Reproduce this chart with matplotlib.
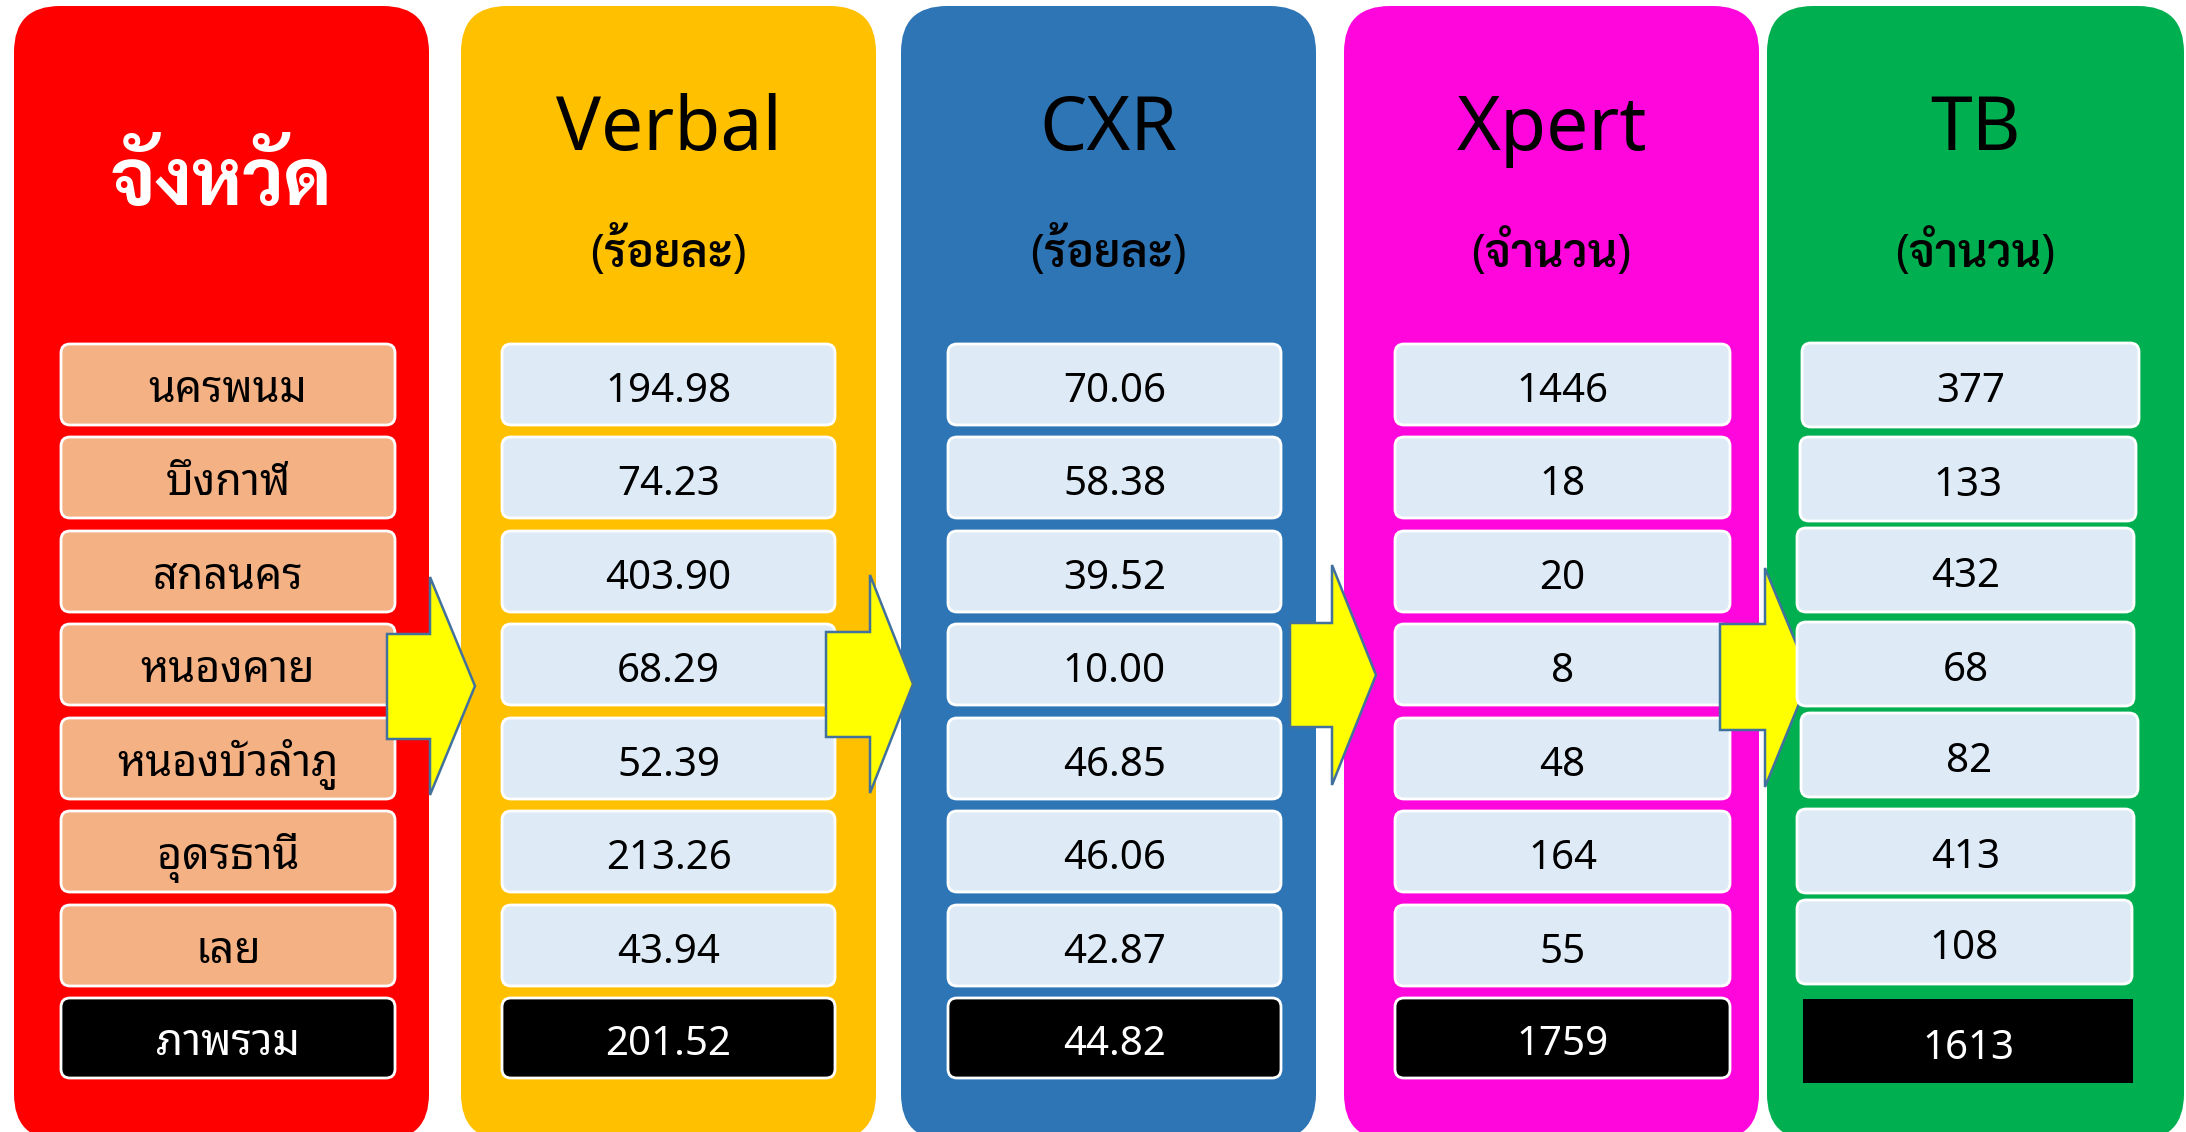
import matplotlib
matplotlib.use("Agg")
import matplotlib.pyplot as plt
from matplotlib.patches import FancyBboxPatch, Polygon
from matplotlib import font_manager as fm

# ---------------- data ----------------
provinces = ['นครพนม', 'บึงกาฬ', 'สกลนคร', 'หนองคาย', 'หนองบัวลำภู', 'อุดรธานี', 'เลย']
total_label = 'ภาพรวม'
titles = ['จังหวัด', 'Verbal', 'CXR', 'Xpert', 'TB']
subtitles = ['', '(ร้อยละ)', '(ร้อยละ)', '(จำนวน)', '(จำนวน)']
verbal = [194.98, 74.23, 403.90, 68.29, 52.39, 213.26, 43.94]
verbal_total = 201.52
cxr = [70.06, 58.38, 39.52, 10.00, 46.85, 46.06, 42.87]
cxr_total = 44.82
xpert = [1446, 18, 20, 8, 48, 164, 55]
xpert_total = 1759
tb = [377, 133, 432, 68, 82, 413, 108]
tb_total = 1613

# ---------------- fonts ----------------
names = {}
for f in fm.fontManager.ttflist:
    w = f.weight if isinstance(f.weight, int) else 400
    names.setdefault(f.name, set()).add(w)
pref = ['Noto Sans Thai Looped', 'Sarabun', 'IBM Plex Sans Thai Looped', 'Noto Sans Thai', 'Loma']
thai = next((p for p in pref if p in names), 'Noto Sans Thai')
thai_bold = next((p for p in pref if p in names and max(names[p]) >= 600), thai)
fam = ['Noto Sans', thai, 'DejaVu Sans']
fam_bold = ['Noto Sans', thai_bold, 'DejaVu Sans']

# ---------------- layout ----------------
W, H = 2186, 1132
fig = plt.figure(figsize=(W / 100, H / 100), dpi=100)
ax = fig.add_axes([0, 0, 1, 1])
ax.set_xlim(0, W)
ax.set_ylim(H, 0)
ax.axis('off')

panel_colors = ['#FF0000', '#FFC000', '#2E75B6', '#FF06DC', '#00B050']
panel_x = [(14, 429), (461, 876), (901, 1316), (1344, 1759), (1767, 2184)]
box_x = [(61, 395), (502, 835), (948, 1281), (1395, 1730)]
row_top = [344, 437, 531, 624, 718, 811, 905]
total_top = 998
BH = 81

# green column boxes are slightly irregular
green_box = [(1802, 2139, 343), (1800, 2136, 437), (1797, 2134, 528), (1797, 2134, 622),
             (1801, 2138, 713), (1797, 2134, 809), (1797, 2132, 900)]
green_total = (1803, 2133, 999, 84)

for (x0, x1), c in zip(panel_x, panel_colors):
    ax.add_patch(FancyBboxPatch((x0, 6), x1 - x0, 1140 - 6,
                                boxstyle='round,pad=0,rounding_size=46',
                                fc=c, ec='none', zorder=1))

def rbox(x0, x1, y0, h, fc, z=2, r=9, ec='white'):
    ax.add_patch(FancyBboxPatch((x0, y0), x1 - x0, h,
                                boxstyle=f'round,pad=0,rounding_size={r}',
                                fc=fc, ec=ec, lw=2, zorder=z))

# titles
for i, ((x0, x1), t, st) in enumerate(zip(panel_x, titles, subtitles)):
    cx = (x0 + x1) / 2
    if i == 0:
        ax.text(cx, 205, t, ha='center', va='baseline', fontsize=56, color='white',
                fontweight='bold', family=fam_bold, zorder=5)
    else:
        ax.text(cx, 150, t, ha='center', va='baseline', fontsize=54, color='black',
                family=fam, zorder=5)
        ax.text(cx, 267, st, ha='center', va='baseline', fontsize=33, color='black',
                fontweight='semibold', family=fam_bold, zorder=5)

columns = [provinces,
           [f'{v:.2f}' for v in verbal],
           [f'{v:.2f}' for v in cxr],
           [str(v) for v in xpert]]
totals = [total_label, f'{verbal_total:.2f}', f'{cxr_total:.2f}', str(xpert_total)]

for ci in range(4):
    x0, x1 = box_x[ci]
    cx = (x0 + x1) / 2
    fc = '#F4B183' if ci == 0 else '#DEEBF7'
    fs = 31 if ci == 0 else 29
    for ri, lab in enumerate(columns[ci]):
        y0 = row_top[ri]
        rbox(x0, x1, y0, BH, fc)
        ax.text(cx, y0 + 58, lab, ha='center', va='baseline', fontsize=fs,
                color='black', family=fam, zorder=5,
                fontweight='medium' if ci == 0 else 'normal')
    rbox(x0, x1, total_top, BH - 1, 'black')
    ax.text(cx, total_top + 57, totals[ci], ha='center', va='baseline', fontsize=fs,
            color='white', family=fam, zorder=5)

for (x0, x1, y0), v in zip(green_box, tb):
    rbox(x0, x1, y0, 84, '#DEEBF7', z=4)
    ax.text((x0 + x1) / 2, y0 + 59, str(v), ha='center', va='baseline', fontsize=29,
            color='black', family=fam, zorder=5)
gx0, gx1, gy0, gh = green_total
ax.add_patch(plt.Rectangle((gx0, gy0), gx1 - gx0, gh, fc='black', ec='none', zorder=4))
ax.text((gx0 + gx1) / 2, gy0 + 60, str(tb_total), ha='center', va='baseline', fontsize=29,
        color='white', family=fam, zorder=5)

# arrows: body_left, head_base, tip, body_top, body_bot, head_top, head_bot, tip_y
arrows = [(387, 430, 475, 634, 739, 577, 795, 686),
          (826, 870, 913, 632, 737, 575, 793, 684),
          (1290, 1332, 1376, 623, 727, 565, 785, 675),
          (1720, 1765, 1810, 624, 730, 568, 787, 677)]
for bl, hb, tp, bt, bb, ht, hbm, ty in arrows:
    pts = [(bl, bt), (hb, bt), (hb, ht), (tp, ty), (hb, hbm), (hb, bb), (bl, bb)]
    ax.add_patch(Polygon(pts, closed=True, fc='#FFFF00', ec='#41719C', lw=1.8, zorder=3))

fig.savefig('out.png', dpi=100)
